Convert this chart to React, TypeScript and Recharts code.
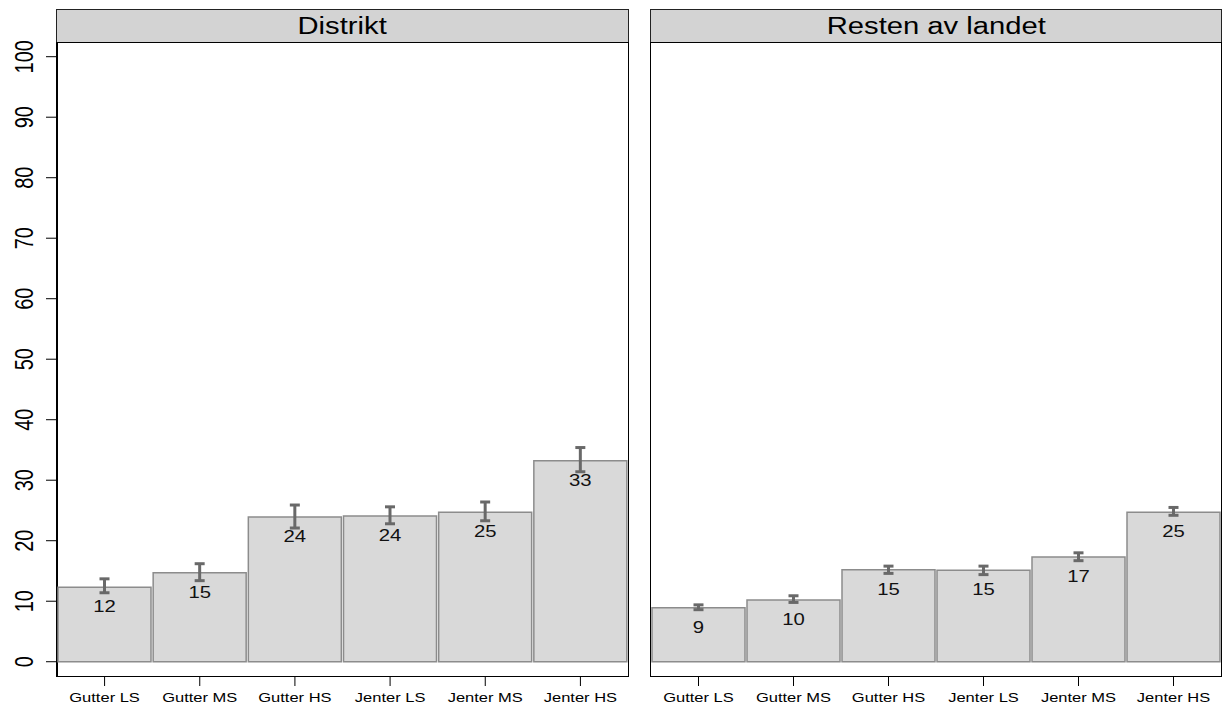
import React from "react"
import { BarChart, Bar, XAxis, YAxis, ErrorBar, LabelList } from "recharts"

const categories = ["Gutter LS", "Gutter MS", "Gutter HS", "Jenter LS", "Jenter MS", "Jenter HS"]

const distriktValues = [12.3, 14.7, 23.9, 24.1, 24.7, 33.2]
const distriktLow = [11.4, 13.4, 22.1, 22.8, 23.3, 31.4]
const distriktHigh = [13.7, 16.2, 25.9, 25.6, 26.4, 35.4]

const restValues = [8.9, 10.2, 15.2, 15.1, 17.3, 24.7]
const restLow = [8.6, 9.8, 14.6, 14.4, 16.7, 24.2]
const restHigh = [9.4, 10.9, 15.8, 15.8, 18.0, 25.5]

const yTicks = [0, 10, 20, 30, 40, 50, 60, 70, 80, 90, 100]
const yDomain: [number, number] = [-2.36, 102.43]

const FONT = "'Liberation Sans', Arial, sans-serif"
const STRETCH = 1.27
const TOP = 42
const PLOT_H = 634
const CHART_H = 704

function rows(values: number[], low: number[], high: number[]) {
  return categories.map((name, i) => ({
    name,
    value: values[i],
    err: [values[i] - low[i], high[i] - values[i]],
  }))
}

// rotated -90deg, then stretched horizontally like the source image
function YTick(props: any) {
  const { x, y, payload } = props
  return (
    <g transform={`translate(${x - 11.5},${y})`}>
      <g transform={`scale(${STRETCH},1)`}>
        <text x={0} y={0} transform="rotate(-90)" textAnchor="middle" fontSize={20} fill="#000" fontFamily={FONT}>
          {payload.value}
        </text>
      </g>
    </g>
  )
}

function XTick(props: any) {
  const { x, y, payload } = props
  return (
    <text
      transform={`translate(${x},${y + 13.5}) scale(${STRETCH},1)`}
      textAnchor="middle" fontSize={13} fill="#000" fontFamily={FONT}
    >
      {payload.value}
    </text>
  )
}

function ValueLabel(props: any) {
  const { x, y, width, value } = props
  return (
    <text
      transform={`translate(${x + width / 2},${y + 25}) scale(${STRETCH},1)`}
      textAnchor="middle" fontSize={16} fill="#111" fontFamily={FONT}
    >
      {Math.round(value)}
    </text>
  )
}

function Panel({
  title, values, low, high, left, width, showY,
}: {
  title: string
  values: number[]
  low: number[]
  high: number[]
  left: number
  width: number
  showY: boolean
}) {
  const yw = showY ? 57 : 0
  const plotLeft = left + yw
  const plotW = width - yw - 1
  const data = rows(values, low, high)
  return (
    <>
      <div style={{
        position: "absolute", left: plotLeft - 1, top: 9, width: plotW + 2, height: 34,
        boxSizing: "border-box", border: "1.5px solid #222", background: "#d3d3d3",
        display: "flex", alignItems: "center", justifyContent: "center",
      }}>
        <span style={{ display: "inline-block", fontSize: 23, lineHeight: "23px", transform: `scaleX(${STRETCH})`, color: "#000" }}>
          {title}
        </span>
      </div>
      <div style={{
        position: "absolute", left: plotLeft - 1, top: TOP, width: plotW + 2, height: PLOT_H + 1,
        boxSizing: "border-box", border: "1.5px solid #000", borderLeftWidth: showY ? 2 : 1.5,
      }} />
      <div style={{ position: "absolute", left, top: 0 }}>
        <BarChart width={width} height={CHART_H} data={data}
          margin={{ top: TOP, right: 1, left: 0, bottom: 0 }} barCategoryGap={1}>
          <XAxis dataKey="name" height={CHART_H - TOP - PLOT_H} tickSize={10} tickMargin={2}
            axisLine={false} tickLine={{ stroke: "#000" }} tick={<XTick />} interval={0} />
          <YAxis type="number" domain={yDomain} ticks={yTicks} allowDataOverflow
            width={yw} hide={!showY} tickSize={11} tickMargin={2}
            axisLine={false} tickLine={{ stroke: "#000" }} tick={<YTick />} />
          <Bar dataKey="value" fill="#d9d9d9" stroke="#8c8c8c" strokeWidth={1.5} isAnimationActive={false}>
            <ErrorBar dataKey="err" direction="y" width={5} strokeWidth={3} stroke="#696969" />
            <LabelList dataKey="value" content={<ValueLabel />} />
          </Bar>
        </BarChart>
      </div>
    </>
  )
}

export default function App() {
  return (
    <div style={{
      position: "absolute", left: 0, top: 0, width: 1224, height: 704,
      background: "#fff", fontFamily: FONT, overflow: "hidden",
    }}>
      <Panel title="Distrikt" values={distriktValues} low={distriktLow} high={distriktHigh}
        left={0} width={629} showY />
      <Panel title="Resten av landet" values={restValues} low={restLow} high={restHigh}
        left={651} width={571} showY={false} />
    </div>
  )
}
